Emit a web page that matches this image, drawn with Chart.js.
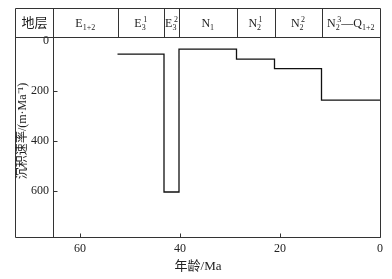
<!DOCTYPE html>
<html>
<head>
<meta charset="utf-8">
<script src="https://cdn.jsdelivr.net/npm/chart.js@4"></script>
<style>
  html, body { margin: 0; padding: 0; background: #fff; }
  canvas { display: block; }
</style>
</head>
<body>
<canvas id="chart" width="392" height="279"></canvas>
<script>
// stage boundaries (Ma, old -> young) and sedimentation rate within each stage (m/Ma)
const stageBoundaries = [52.5, 43.2, 40.2, 28.7, 21.1, 11.7, 0];
const stageRates = [53, 606, 33, 73, 111, 237];
// header labels: _ = subscript, ^ = superscript
const stageLabels = ['E_{1+2}', 'E_3^1', 'E_3^2', 'N_1', 'N_2^1', 'N_2^2', 'N_2^3—Q_{1+2}'];
const xTicks = [60, 40, 20, 0];
const yTicks = [0, 200, 400, 600];
const xMax = 65.4;

const SERIF = '"Liberation Serif", "Noto Sans CJK SC", serif';
const INK = '#222';

// step points: each boundary carries the rate of the interval that follows it
const stepPoints = stageBoundaries.map((age, i) => ({
    x: age,
    y: stageRates[Math.min(i, stageRates.length - 1)]
}));

// split 'N_2^3' into base / sub / sup pieces
function parseLabel(s) {
    const items = [];
    let i = 0;
    while (i < s.length) {
        const c = s[i];
        if (c === '_' || c === '^') {
            i++;
            let txt;
            if (s[i] === '{') {
                const j = s.indexOf('}', i);
                txt = s.slice(i + 1, j);
                i = j + 1;
            } else {
                txt = s[i];
                i++;
            }
            items.push({ kind: c === '_' ? 'sub' : 'sup', txt });
        } else {
            items.push({ kind: 'base', txt: c });
            i++;
        }
    }
    return items;
}

function drawRichLabel(ctx, s, cx, baseline) {
    const items = parseLabel(s);
    const baseFont = '12px ' + SERIF;
    const smallFont = '8px ' + SERIF;
    // group stacked sub/sup pairs
    const groups = [];
    items.forEach(it => {
        const last = groups[groups.length - 1];
        if (it.kind !== 'base' && last && last.script && !last[it.kind]) {
            last[it.kind] = it.txt;
        } else if (it.kind === 'base') {
            groups.push({ base: it.txt });
        } else {
            const g = { script: true };
            g[it.kind] = it.txt;
            groups.push(g);
        }
    });
    groups.forEach(g => {
        if (g.base !== undefined) {
            ctx.font = baseFont;
            g.w = ctx.measureText(g.base).width;
        } else {
            ctx.font = smallFont;
            const ws = g.sub ? ctx.measureText(g.sub).width : 0;
            const wp = g.sup ? ctx.measureText(g.sup).width + (g.sub ? 1.5 : 0) : 0;
            g.w = Math.max(ws, wp);
        }
    });
    const total = groups.reduce((a, g) => a + g.w, 0);
    let x = cx - total / 2;
    ctx.textAlign = 'left';
    ctx.textBaseline = 'alphabetic';
    groups.forEach(g => {
        if (g.base !== undefined) {
            ctx.font = baseFont;
            ctx.fillText(g.base, x, baseline);
        } else {
            ctx.font = smallFont;
            if (g.sub) ctx.fillText(g.sub, x, baseline + 3);
            if (g.sup) ctx.fillText(g.sup, x + (g.sub ? 1.5 : 0), baseline - 5);
        }
        x += g.w;
    });
}

// frame, stratigraphy header, inner tick marks and axis titles
const framePlugin = {
    id: 'frame',
    afterDraw(chart) {
        const ctx = chart.ctx;
        const a = chart.chartArea;
        const xs = chart.scales.x;
        const ys = chart.scales.y;
        const outerLeft = 15.5;
        const headTop = a.top - 29 + 0.5;
        const L = a.left + 0.5, R = a.right + 0.5, T = a.top + 0.5, B = a.bottom + 0.5;

        ctx.save();
        ctx.strokeStyle = '#333';
        ctx.lineWidth = 1;
        ctx.beginPath();
        // outer box
        ctx.rect(outerLeft, headTop, R - outerLeft, B - headTop);
        // header bottom line
        ctx.moveTo(outerLeft, T); ctx.lineTo(R, T);
        // y axis line
        ctx.moveTo(L, headTop); ctx.lineTo(L, B);
        // header column dividers
        stageBoundaries.slice(0, -1).forEach(age => {
            const px = Math.round(xs.getPixelForValue(age)) + 0.5;
            ctx.moveTo(px, headTop); ctx.lineTo(px, T);
        });
        // inner tick marks
        xTicks.forEach(v => {
            const px = Math.round(xs.getPixelForValue(v)) + 0.5;
            ctx.moveTo(px, B); ctx.lineTo(px, B - 4);
        });
        yTicks.slice(1).forEach(v => {
            const py = Math.round(ys.getPixelForValue(v)) + 0.5;
            ctx.moveTo(L, py); ctx.lineTo(L + 4, py);
        });
        ctx.stroke();

        // header text
        ctx.fillStyle = INK;
        ctx.font = '13px "Noto Sans CJK SC", sans-serif';
        ctx.textAlign = 'center';
        ctx.textBaseline = 'middle';
        ctx.fillText('地层', (outerLeft + L) / 2, headTop + 14);

        const edges = [xMax].concat(stageBoundaries);
        stageLabels.forEach((lab, i) => {
            const x0 = xs.getPixelForValue(edges[i]);
            const x1 = xs.getPixelForValue(edges[i + 1]);
            drawRichLabel(ctx, lab, (x0 + x1) / 2, headTop + 18.5);
        });

        // axis titles
        ctx.font = '13px ' + SERIF;
        ctx.textAlign = 'center';
        ctx.textBaseline = 'middle';
        ctx.fillText('年龄/Ma', (outerLeft + R) / 2, a.bottom + 30);

        ctx.translate(23, a.top + 94);
        ctx.rotate(-Math.PI / 2);
        ctx.font = '12px ' + SERIF;
        ctx.fillText('沉积速率/(m·Ma⁻¹)', 0, 0);
        ctx.restore();
    }
};

new Chart(document.getElementById('chart'), {
    type: 'line',
    data: {
        datasets: [{
            data: stepPoints,
            stepped: true,
            borderColor: '#111',
            borderWidth: 1.3,
            pointRadius: 0,
            fill: false
        }]
    },
    options: {
        responsive: false,
        animation: false,
        layout: { padding: { top: 37, right: 12, left: 0, bottom: 0 } },
        plugins: {
            legend: { display: false },
            tooltip: { enabled: false }
        },
        scales: {
            x: {
                type: 'linear',
                reverse: true,
                min: 0,
                max: xMax,
                grid: { display: false, drawTicks: false },
                border: { display: false },
                afterBuildTicks: axis => { axis.ticks = xTicks.map(v => ({ value: v })); },
                afterFit: axis => { axis.height = 42; },
                ticks: {
                    padding: 5,
                    color: INK,
                    font: { family: SERIF, size: 12 },
                    maxRotation: 0
                }
            },
            y: {
                type: 'linear',
                reverse: true,
                min: -16,
                max: 786.6,
                grid: { display: false, drawTicks: false },
                border: { display: false },
                afterBuildTicks: axis => { axis.ticks = yTicks.map(v => ({ value: v })); },
                afterFit: axis => { axis.width = 53; },
                ticks: {
                    padding: 4,
                    color: INK,
                    font: { family: SERIF, size: 12 }
                }
            }
        }
    },
    plugins: [framePlugin]
});
</script>
</body>
</html>
